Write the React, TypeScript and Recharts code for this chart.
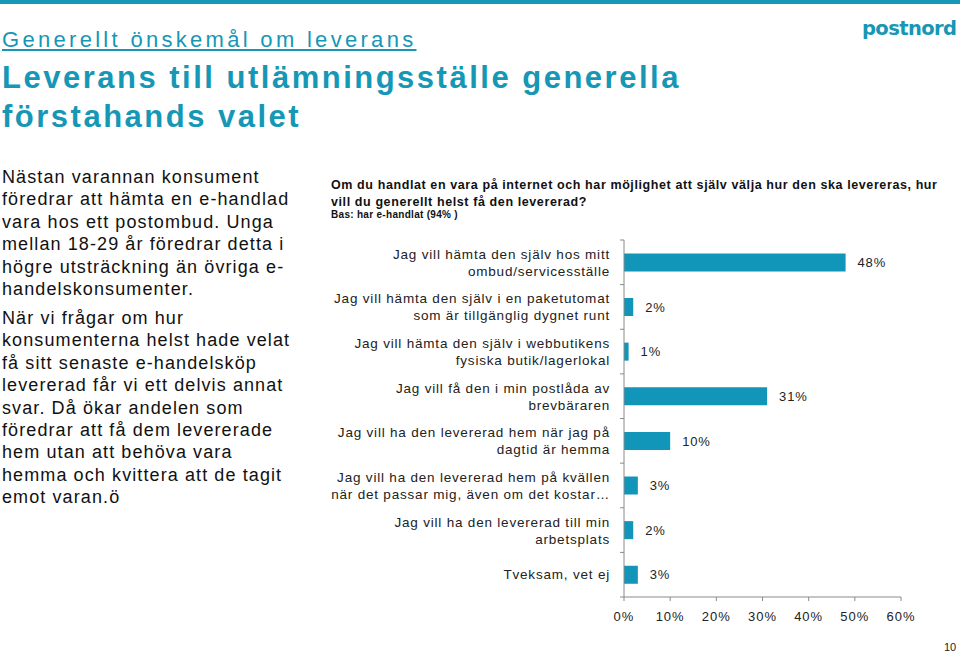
import React from "react";
import { Bar, BarChart, LabelList, XAxis, YAxis } from "recharts";

const TEAL = "#1597b5";
const BAR = "#1196b9";
const FONT = "'Liberation Sans', Arial, sans-serif";

const categories: string[][] = [
  ["Jag vill hämta den själv hos mitt", "ombud/servicesställe"],
  ["Jag vill hämta den själv i en paketutomat", "som är tillgänglig dygnet runt"],
  ["Jag vill hämta den själv i webbutikens", "fysiska butik/lagerlokal"],
  ["Jag vill få den i min postlåda av", "brevbäraren"],
  ["Jag vill ha den levererad hem när jag på", "dagtid är hemma"],
  ["Jag vill ha den levererad hem på kvällen", "när det passar mig, även om det kostar…"],
  ["Jag vill ha den levererad till min", "arbetsplats"],
  ["Tveksam, vet ej"],
];
const values = [48, 2, 1, 31, 10, 3, 2, 3];
const xTicks = [0, 10, 20, 30, 40, 50, 60];

const data = categories.map((lines, i) => ({ label: lines.join("\n"), value: values[i] }));

const PLOT_H = 357;
const BAND = PLOT_H / categories.length;

const paragraph1 =
  "Nästan varannan konsument\nföredrar att hämta en e-handlad\nvara hos ett postombud. Unga\nmellan 18-29 år föredrar detta i\nhögre utsträckning än övriga e-\nhandelskonsumenter.";
const paragraph2 =
  "När vi frågar om hur\nkonsumenterna helst hade velat\nfå sitt senaste e-handelsköp\nlevererad får vi ett delvis annat\nsvar. Då ökar andelen som\nföredrar att få dem levererade\nhem utan att behöva vara\nhemma och kvittera att de tagit\nemot varan.ö";

const question = [
  "Om du handlat en vara på internet och har möjlighet att själv välja hur den ska levereras, hur",
  "vill du generellt helst få den levererad?",
];

function CategoryTick(props: any) {
  const { x, y, payload, index } = props;
  const lines: string[] = String(payload.value).split("\n");
  const axisX = x + 14;
  const offsets = lines.length === 1 ? [0] : [-8, 9];
  return (
    <g>
      <line x1={axisX - 4} x2={axisX} y1={y - BAND / 2} y2={y - BAND / 2} stroke="#8a8a8a" />
      {index === categories.length - 1 && (
        <line x1={axisX - 4} x2={axisX} y1={y + BAND / 2} y2={y + BAND / 2} stroke="#8a8a8a" />
      )}
      {lines.map((l, i) => (
        <text
          key={i}
          x={x}
          y={y + offsets[i]}
          textAnchor="end"
          dominantBaseline="central"
          fontSize={13.5}
          fill="#222"
          style={{ letterSpacing: "0.8px", fontFamily: FONT }}
        >
          {l}
        </text>
      ))}
    </g>
  );
}

export default function App() {
  const qStyle: React.CSSProperties = {
    position: "absolute",
    left: 331,
    fontSize: 12.5,
    fontWeight: "bold",
    letterSpacing: "0.6px",
    lineHeight: "13px",
    color: "#111",
    whiteSpace: "pre",
  };
  return (
    <div
      style={{
        position: "absolute",
        top: 0,
        left: 0,
        width: 960,
        height: 654,
        background: "#fff",
        overflow: "hidden",
        fontFamily: FONT,
      }}
    >
      <div style={{ position: "absolute", top: 0, left: 0, width: 960, height: 4, background: TEAL }} />
      <div
        style={{
          position: "absolute",
          left: 862,
          top: 17,
          fontFamily: "'DejaVu Sans', sans-serif",
          fontWeight: 900,
          fontSize: 19.5,
          letterSpacing: "-0.6px",
          color: TEAL,
        }}
      >
        postnord
      </div>
      <div
        style={{
          position: "absolute",
          left: 2,
          top: 27,
          fontSize: 22,
          letterSpacing: "3.3px",
          color: TEAL,
          textDecoration: "underline",
          whiteSpace: "nowrap",
        }}
      >
        Generellt önskemål om leverans
      </div>
      <div
        style={{
          position: "absolute",
          left: 2,
          top: 58,
          fontSize: 31,
          fontWeight: "bold",
          letterSpacing: "2.5px",
          lineHeight: "39px",
          color: TEAL,
          whiteSpace: "pre",
        }}
      >
        {"Leverans till utlämningsställe generella\nförstahands valet"}
      </div>
      <div
        style={{
          position: "absolute",
          left: 2,
          top: 166,
          fontSize: 18,
          letterSpacing: "1.1px",
          lineHeight: "22.4px",
          color: "#111",
          whiteSpace: "pre",
        }}
      >
        <div>{paragraph1}</div>
        <div style={{ marginTop: 6.6 }}>{paragraph2}</div>
      </div>
      <div style={{ ...qStyle, top: 178.5 }}>{question[0]}</div>
      <div style={{ ...qStyle, top: 196 }}>{question[1]}</div>
      <div
        style={{
          position: "absolute",
          left: 331,
          top: 209.5,
          fontSize: 10,
          lineHeight: "9px",
          fontWeight: "bold",
          letterSpacing: "0.3px",
          color: "#111",
          whiteSpace: "pre",
        }}
      >
        Bas: har e-handlat (94% )
      </div>
      <div style={{ position: "absolute", left: 330, top: 230 }}>
        <BarChart
          width={600}
          height={410}
          data={data}
          layout="vertical"
          margin={{ top: 10, right: 29, bottom: 0, left: 0 }}
          barCategoryGap="30%"
        >
          <XAxis
            type="number"
            domain={[0, 60]}
            ticks={xTicks}
            tickFormatter={(v: number) => `${v}%`}
            axisLine={{ stroke: "#8a8a8a" }}
            tickLine={{ stroke: "#8a8a8a" }}
            tickSize={4}
            tickMargin={11}
            height={43}
            tick={{ fontSize: 13, fill: "#222", fontFamily: FONT, letterSpacing: "1px" }}
            interval={0}
          />
          <YAxis
            type="category"
            dataKey="label"
            width={294}
            axisLine={{ stroke: "#8a8a8a" }}
            tickLine={false}
            tickSize={0}
            tickMargin={14}
            tick={<CategoryTick />}
            interval={0}
          />
          <Bar dataKey="value" fill={BAR} isAnimationActive={false}>
            <LabelList
              dataKey="value"
              position="right"
              offset={12}
              formatter={(v: any) => `${v}%`}
              style={{ fontSize: 13, fill: "#222", fontFamily: FONT, letterSpacing: "0.8px" }}
            />
          </Bar>
        </BarChart>
      </div>
      <div style={{ position: "absolute", left: 944, top: 641, fontSize: 11, color: "#222" }}>10</div>
    </div>
  );
}
